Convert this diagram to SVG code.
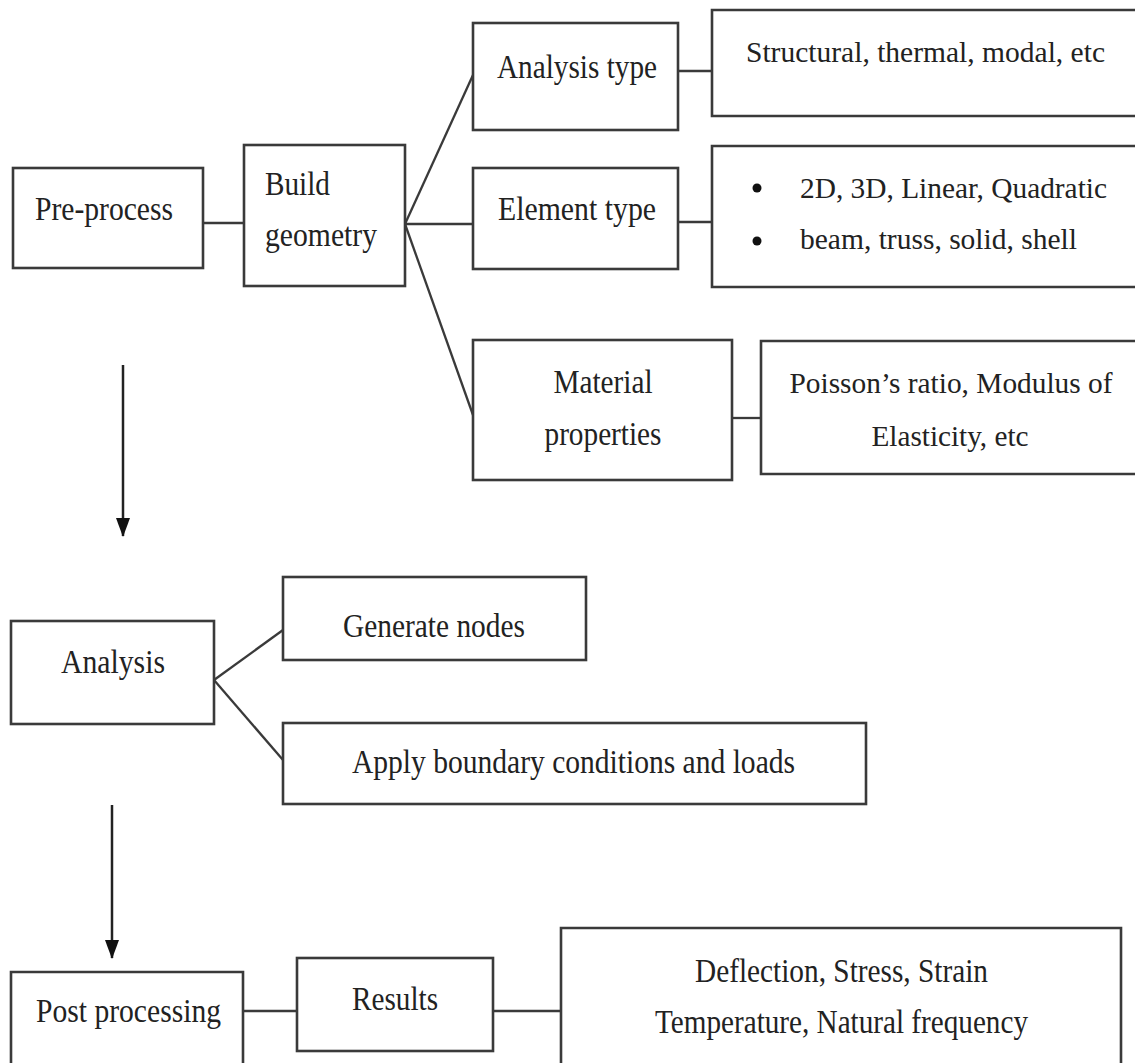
<svg xmlns="http://www.w3.org/2000/svg" width="1135" height="1063" viewBox="0 0 1135 1063" font-family="'Liberation Serif', 'DejaVu Serif', serif">
<defs>
<style>
.box{fill:#fff;stroke:#3a3a3a;stroke-width:2.6}
.ln{fill:none;stroke:#3a3a3a;stroke-width:2.3}
.arr{fill:none;stroke:#222;stroke-width:2.5}
text{font-family:"Liberation Serif","Times New Roman","DejaVu Serif",serif;font-size:33px;fill:#222}
.c{text-anchor:middle}
.w{font-size:30px}
</style>
<marker id="ah" markerWidth="19" markerHeight="14" refX="18" refY="7" orient="auto" markerUnits="userSpaceOnUse" viewBox="0 0 19 14">
<path d="M0,0 L19,7 L0,14 Z" fill="#111"/>
</marker>
</defs>
<rect width="1135" height="1063" fill="#fff"/>
<g id="connectors">
<line class="ln" x1="203" y1="223" x2="244" y2="223"/>
<line class="ln" x1="405" y1="224" x2="473" y2="75"/>
<line class="ln" x1="405" y1="224" x2="473" y2="224"/>
<line class="ln" x1="405" y1="224" x2="473" y2="415"/>
<line class="ln" x1="678" y1="71" x2="712" y2="71"/>
<line class="ln" x1="678" y1="222" x2="712" y2="222"/>
<line class="ln" x1="732" y1="418" x2="761" y2="418"/>
<line class="ln" x1="214" y1="680" x2="283" y2="630"/>
<line class="ln" x1="214" y1="680" x2="283" y2="760"/>
<line class="ln" x1="243" y1="1011" x2="297" y2="1011"/>
<line class="ln" x1="493" y1="1011" x2="561" y2="1011"/>
<line class="arr" x1="123" y1="365" x2="123" y2="536" marker-end="url(#ah)"/>
<line class="arr" x1="112" y1="805" x2="112" y2="958" marker-end="url(#ah)"/>
</g>
<g id="pre-process">
<rect class="box" x="13" y="168" width="190" height="100"/>
<text x="35" y="220" textLength="138" lengthAdjust="spacingAndGlyphs">Pre-process</text>
</g>
<g id="build-geometry">
<rect class="box" x="244" y="145" width="161" height="141"/>
<text x="265" y="195" textLength="65" lengthAdjust="spacingAndGlyphs">Build</text>
<text x="265" y="246" textLength="112" lengthAdjust="spacingAndGlyphs">geometry</text>
</g>
<g id="analysis-type">
<rect class="box" x="473" y="23" width="205" height="107"/>
<text x="497" y="78" textLength="160" lengthAdjust="spacingAndGlyphs">Analysis type</text>
</g>
<g id="analysis-type-detail">
<path class="box" d="M1135,10 H712 V116 H1135"/>
<text class="w" x="746" y="62" textLength="359" lengthAdjust="spacingAndGlyphs">Structural, thermal, modal, etc</text>
</g>
<g id="element-type">
<rect class="box" x="473" y="168" width="205" height="101"/>
<text x="498" y="220" textLength="158" lengthAdjust="spacingAndGlyphs">Element type</text>
</g>
<g id="element-type-detail">
<path class="box" d="M1135,146 H712 V287 H1135"/>
<circle cx="757" cy="188" r="4.5" fill="#111"/>
<circle cx="757" cy="241" r="4.5" fill="#111"/>
<text class="w" x="800" y="198" textLength="307" lengthAdjust="spacingAndGlyphs">2D, 3D, Linear, Quadratic</text>
<text class="w" x="800" y="249" textLength="277" lengthAdjust="spacingAndGlyphs">beam, truss, solid, shell</text>
</g>
<g id="material-properties">
<rect class="box" x="473" y="340" width="259" height="140"/>
<text class="c" x="603" y="393" textLength="99" lengthAdjust="spacingAndGlyphs">Material</text>
<text class="c" x="603" y="445" textLength="117" lengthAdjust="spacingAndGlyphs">properties</text>
</g>
<g id="material-detail">
<path class="box" d="M1135,341 H761 V474 H1135"/>
<text class="c w" x="951" y="393" textLength="323" lengthAdjust="spacingAndGlyphs">Poisson’s ratio, Modulus of</text>
<text class="c w" x="950" y="446" textLength="157" lengthAdjust="spacingAndGlyphs">Elasticity, etc</text>
</g>
<g id="analysis">
<rect class="box" x="11" y="621" width="203" height="103"/>
<text x="61" y="673" textLength="104" lengthAdjust="spacingAndGlyphs">Analysis</text>
</g>
<g id="generate-nodes">
<rect class="box" x="283" y="577" width="303" height="83"/>
<text x="343" y="637" textLength="182" lengthAdjust="spacingAndGlyphs">Generate nodes</text>
</g>
<g id="apply-boundary">
<rect class="box" x="283" y="723" width="583" height="81"/>
<text x="352" y="773" textLength="443" lengthAdjust="spacingAndGlyphs">Apply boundary conditions and loads</text>
</g>
<g id="post-processing">
<path class="box" d="M11,1063 V972 H243 V1063"/>
<text x="36" y="1022" textLength="185" lengthAdjust="spacingAndGlyphs">Post processing</text>
</g>
<g id="results">
<rect class="box" x="297" y="958" width="196" height="93"/>
<text x="352" y="1010" textLength="86" lengthAdjust="spacingAndGlyphs">Results</text>
</g>
<g id="results-detail">
<path class="box" d="M561,1063 V928 H1121 V1063"/>
<text x="695" y="982" textLength="293" lengthAdjust="spacingAndGlyphs">Deflection, Stress, Strain</text>
<text x="655" y="1033" textLength="373" lengthAdjust="spacingAndGlyphs">Temperature, Natural frequency</text>
</g>
</svg>
